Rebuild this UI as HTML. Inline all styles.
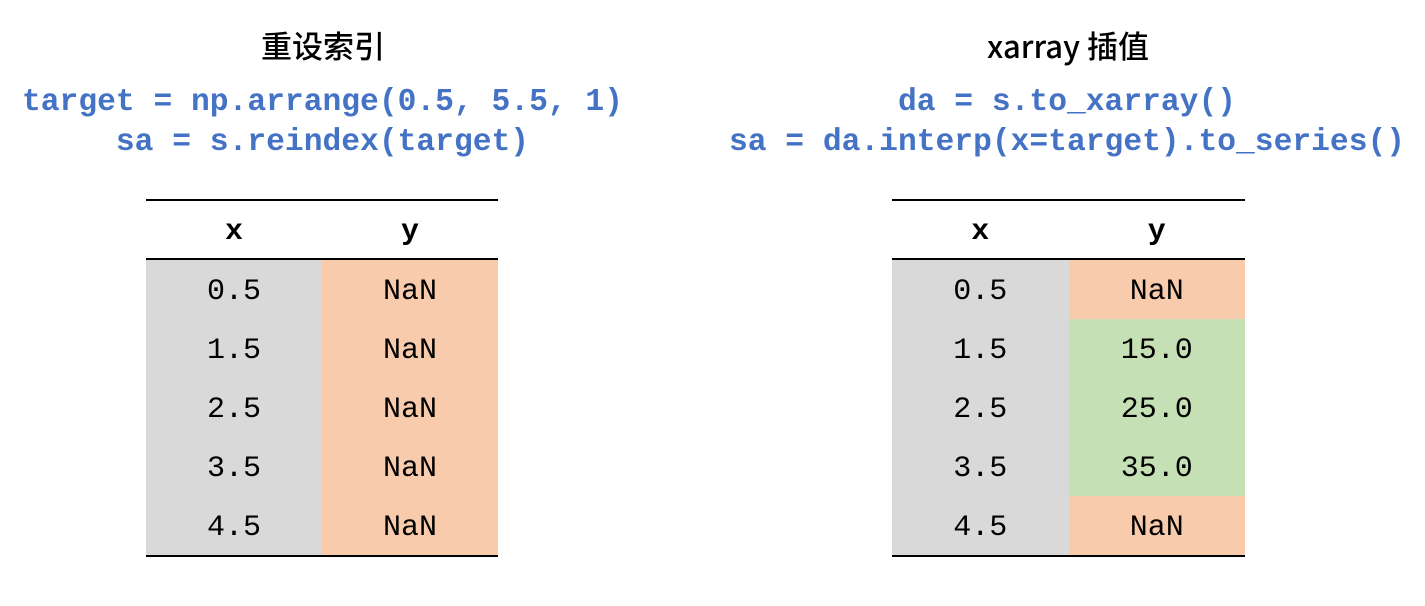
<!DOCTYPE html>
<html><head><meta charset="utf-8"><style>
body{margin:0;width:1425px;height:606px;background:#fff;position:relative;overflow:hidden;font-family:"Liberation Sans","Noto Sans CJK SC",sans-serif}
.t{position:absolute;text-align:center;white-space:pre}
.title{font-size:31px;color:#000;font-family:"Noto Sans CJK SC",sans-serif;font-weight:500}
.code{font-family:"Liberation Mono",monospace;font-weight:bold;font-size:31.3px;color:#4472c4;line-height:40px}
.tbl{position:absolute;border-top:2px solid #000;border-bottom:2px solid #000}
.row{display:flex;height:59px;font-family:"Liberation Mono",monospace;font-size:30px;align-items:center}
.row div{flex:1;text-align:center;height:59px;line-height:64px}
.hd{border-bottom:2px solid #000;font-weight:bold;height:57px}
.hd div{height:57px;line-height:62px}
.g{background:#d9d9d9}.o{background:#f8cbad}.gr{background:#c5e0b4}
</style></head><body>
<div class="t title" style="left:123px;width:400px;top:22px">重设索引</div>
<div class="t code" style="left:0;width:645px;top:83px">target = np.arrange(0.5, 5.5, 1)
sa = s.reindex(target)</div>
<div class="t title" style="left:868px;width:400px;top:22px">xarray 插值</div>
<div class="t code" style="left:667px;width:800px;top:83px">da = s.to_xarray()
sa = da.interp(x=target).to_series()</div>

<div class="tbl" style="left:146px;top:199px;width:352px">
<div class="row hd"><div>x</div><div>y</div></div>
<div class="row"><div class="g">0.5</div><div class="o">NaN</div></div>
<div class="row"><div class="g">1.5</div><div class="o">NaN</div></div>
<div class="row"><div class="g">2.5</div><div class="o">NaN</div></div>
<div class="row"><div class="g">3.5</div><div class="o">NaN</div></div>
<div class="row"><div class="g">4.5</div><div class="o">NaN</div></div>
</div>

<div class="tbl" style="left:892px;top:199px;width:353px">
<div class="row hd"><div>x</div><div>y</div></div>
<div class="row"><div class="g">0.5</div><div class="o">NaN</div></div>
<div class="row"><div class="g">1.5</div><div class="gr">15.0</div></div>
<div class="row"><div class="g">2.5</div><div class="gr">25.0</div></div>
<div class="row"><div class="g">3.5</div><div class="gr">35.0</div></div>
<div class="row"><div class="g">4.5</div><div class="o">NaN</div></div>
</div>
</body></html>
